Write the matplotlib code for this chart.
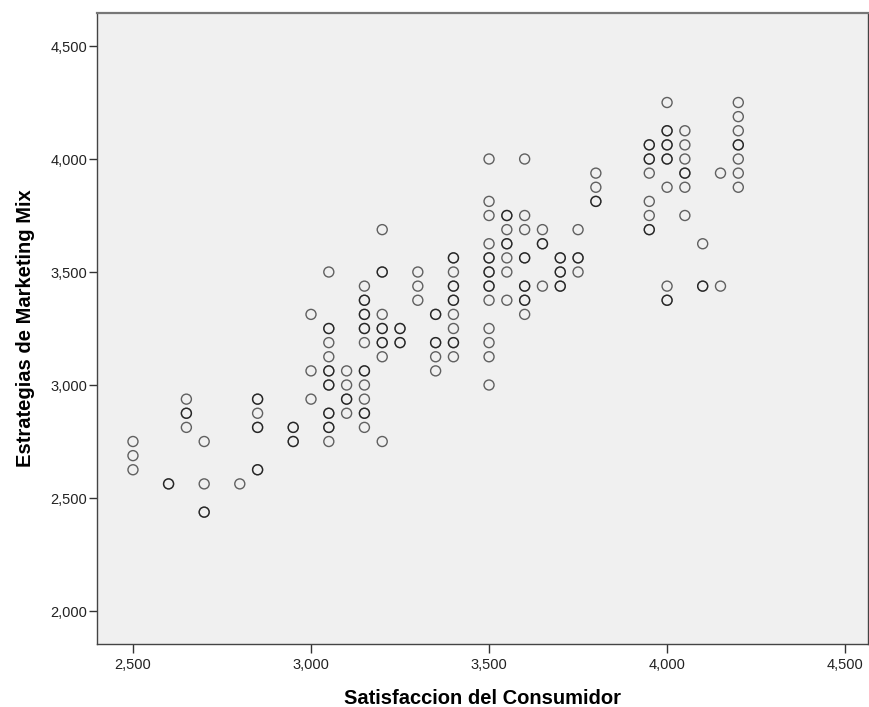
import numpy as np
import matplotlib.pyplot as plt
from matplotlib.ticker import FuncFormatter

# Satisfaccion del Consumidor (x) columns and the Marketing Mix values in each
col_x = [2.5, 2.6, 2.65, 2.7, 2.8, 2.85, 2.95, 3.0, 3.05, 3.1, 3.15, 3.2, 3.25, 3.3,
         3.35, 3.4, 3.5, 3.55, 3.6, 3.65, 3.7, 3.75, 3.8, 3.95, 4.0, 4.05, 4.1, 4.15, 4.2]
col_y = [
    [2.75, 2.6875, 2.625],
    [2.5625, 2.5625],
    [2.9375, 2.875, 2.875, 2.8125],
    [2.75, 2.5625, 2.4375, 2.4375],
    [2.5625],
    [2.9375, 2.9375, 2.875, 2.8125, 2.8125, 2.625, 2.625],
    [2.8125, 2.8125, 2.75, 2.75],
    [3.3125, 3.0625, 2.9375],
    [3.5, 3.25, 3.25, 3.1875, 3.125, 3.0625, 3.0625, 3.0, 3.0, 2.875, 2.875,
     2.8125, 2.8125, 2.75],
    [3.0625, 3.0, 2.9375, 2.9375, 2.875],
    [3.4375, 3.375, 3.375, 3.3125, 3.3125, 3.25, 3.25, 3.1875, 3.0625, 3.0625,
     3.0, 2.9375, 2.875, 2.875, 2.8125],
    [3.6875, 3.5, 3.5, 3.3125, 3.25, 3.25, 3.1875, 3.1875, 3.125, 2.75],
    [3.25, 3.25, 3.1875, 3.1875],
    [3.5, 3.4375, 3.375],
    [3.3125, 3.3125, 3.1875, 3.1875, 3.125, 3.0625],
    [3.5625, 3.5625, 3.5, 3.4375, 3.4375, 3.375, 3.375, 3.3125, 3.25, 3.1875,
     3.1875, 3.125],
    [4.0, 3.8125, 3.75, 3.625, 3.5625, 3.5625, 3.5, 3.5, 3.4375, 3.4375, 3.375,
     3.25, 3.1875, 3.125, 3.0],
    [3.75, 3.75, 3.6875, 3.625, 3.625, 3.5625, 3.5, 3.375],
    [4.0, 3.75, 3.6875, 3.5625, 3.5625, 3.4375, 3.4375, 3.375, 3.375, 3.3125],
    [3.6875, 3.625, 3.625, 3.4375],
    [3.5625, 3.5625, 3.5, 3.5, 3.4375, 3.4375],
    [3.6875, 3.5625, 3.5625, 3.5],
    [3.9375, 3.875, 3.8125, 3.8125],
    [4.0625, 4.0625, 4.0, 4.0, 3.9375, 3.8125, 3.75, 3.6875, 3.6875],
    [4.25, 4.125, 4.125, 4.0625, 4.0625, 4.0, 4.0, 3.875, 3.4375, 3.375, 3.375],
    [4.125, 4.0625, 4.0, 3.9375, 3.9375, 3.875, 3.75],
    [3.625, 3.4375, 3.4375],
    [3.9375, 3.4375],
    [4.25, 4.1875, 4.125, 4.0625, 4.0625, 4.0, 3.9375, 3.875],
]

x_ticks = [2.5, 3.0, 3.5, 4.0, 4.5]
y_ticks = [2.0, 2.5, 3.0, 3.5, 4.0, 4.5]

sat = []
mkt = []
for xv, ys in zip(col_x, col_y):
    for yv in ys:
        sat.append(xv)
        mkt.append(yv)

plt.rcParams['font.family'] = ['Liberation Sans', 'DejaVu Sans']

fig = plt.figure(figsize=(8.7, 7.07), dpi=100)
ax = fig.add_axes([0.1115, 0.0891, 0.8865, 0.8925])
ax.set_facecolor('#f0f0f0')

ax.scatter(sat, mkt, s=52, facecolors='none', edgecolors=(0, 0, 0, 0.6),
           linewidths=1.0)

ax.set_xlim(2.399, 4.565)
ax.set_ylim(1.854, 4.646)
ax.set_xticks(x_ticks)
ax.set_yticks(y_ticks)
fmt = FuncFormatter(lambda v, p: f'{v:.3f}'.replace('.', ','))
ax.xaxis.set_major_formatter(fmt)
ax.yaxis.set_major_formatter(fmt)
ax.tick_params(axis='x', length=6.5, width=1, labelsize=10.5, pad=3.5, color='#333333',
               labelcolor='#222222')
ax.tick_params(axis='y', length=6, width=1, labelsize=10.5, pad=1, color='#333333',
               labelcolor='#222222')

for side in ['left', 'bottom', 'top', 'right']:
    ax.spines[side].set_color('#444444')
    ax.spines[side].set_linewidth(1.0)
ax.spines['top'].set_linewidth(1.6)
ax.spines['top'].set_color('#777777')

ax.set_xlabel('Satisfaccion del Consumidor', fontsize=14.5, fontweight='bold', labelpad=12)
ax.set_ylabel('Estrategias de Marketing Mix', fontsize=14.5, fontweight='bold', labelpad=11)

fig.savefig('out.png', dpi=100)
